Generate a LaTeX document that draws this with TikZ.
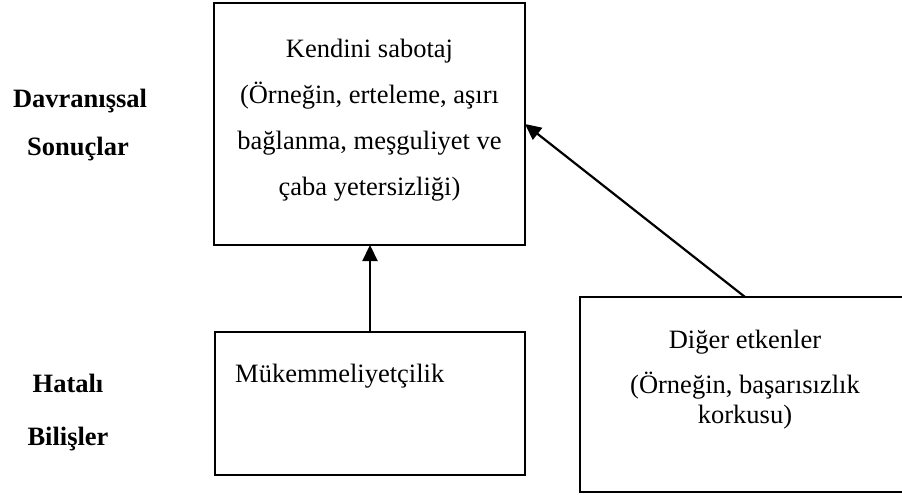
\documentclass[tikz,border=0pt]{standalone}
\usepackage{fontspec}
\setmainfont{Liberation Serif}
\usetikzlibrary{arrows.meta}

\begin{document}
\begin{tikzpicture}[x=1pt,y=-1pt,
                    box/.style={draw,line width=2pt,inner sep=0pt,outer sep=0pt},
                    txt/.style={font=\fontsize{26.5}{46}\selectfont,align=center,inner sep=0pt},
                    lbl/.style={font=\fontsize{26.5}{32}\selectfont\bfseries,inner sep=0pt,anchor=base},
                    arr/.style={-{Triangle[length=16pt,width=15pt]},line width=2.2pt}
                   ]
  \useasboundingbox (0,0) rectangle (902,495);
  \clip (0,0) rectangle (902,495);

  % boxes
  \node[box,minimum width=311,minimum height=242] (sabotaj) at (369.5,124) {};
  \node[box,minimum width=310,minimum height=143] (mukemmel) at (370,403.5) {};
  % right side of this box runs off the page
  \node[inner sep=0pt,outer sep=0pt,minimum width=360,minimum height=195] (diger) at (760,394.5) {};
  \draw[line width=2pt] (diger.north east) -- (diger.north west) -- (diger.south west) -- (diger.south east);

  % texts
  \node[txt] (sabotajtxt) at (369.5,120) {Kendini sabotaj\\(Örneğin, erteleme, aşırı\\bağlanma, meşguliyet ve\\çaba yetersizliği)};
  \node[txt,anchor=base west] (mukemmeltxt) at (235,382) {Mükemmeliyetçilik};
  \node[txt,font=\fontsize{26.5}{30}\selectfont] (digertxt) at (745,379.5) {Diğer etkenler\\[15pt](Örneğin, başarısızlık\\korkusu)};

  % row labels
  \node[lbl] (davr) at (80,107) {Davranışsal};
  \node[lbl] (sonuc) at (78,155) {Sonuçlar};
  \node[lbl] (hatali) at (68,392) {Hatalı};
  \node[lbl] (bilis) at (68,445) {Bilişler};

  \draw[arr] (mukemmel.north) -- (mukemmel.north |- sabotaj.south);
  \draw[arr] (diger.north -| digertxt.center) -- (sabotaj.east);
\end{tikzpicture}
\end{document}
